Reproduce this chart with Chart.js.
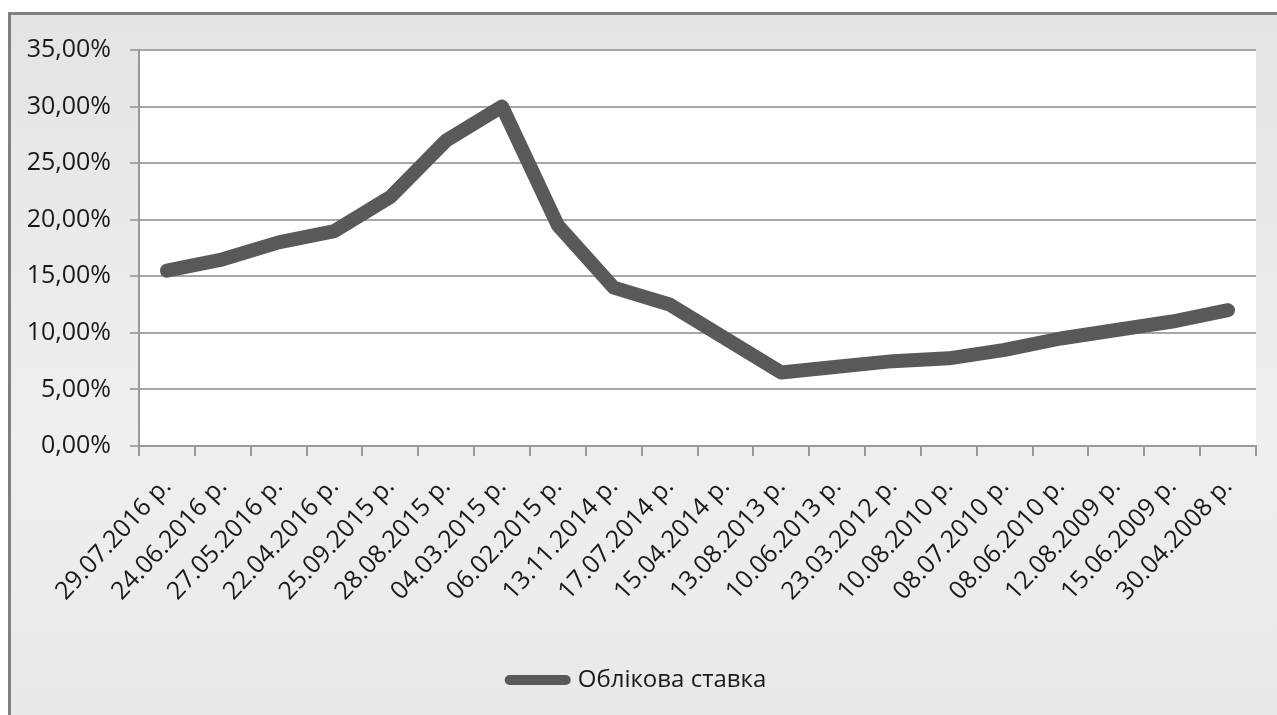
<!DOCTYPE html>
<html lang="uk">
<head>
    <meta charset="UTF-8">
    <script src="https://cdn.jsdelivr.net/npm/chart.js"></script>
    <title>Облікова ставка</title>
    <style>
        body { margin: 0; background: #fff; }
        #wrap { width: 1277px; height: 715px; position: relative; }
    </style>
</head>
<body>
    <div id="wrap">
        <canvas id="myChart"></canvas>
    </div>
    <script>
        const dates = [
            "29.07.2016 р.", "24.06.2016 р.", "27.05.2016 р.", "22.04.2016 р.", "25.09.2015 р.",
            "28.08.2015 р.", "04.03.2015 р.", "06.02.2015 р.", "13.11.2014 р.", "17.07.2014 р.",
            "15.04.2014 р.", "13.08.2013 р.", "10.06.2013 р.", "23.03.2012 р.", "10.08.2010 р.",
            "08.07.2010 р.", "08.06.2010 р.", "12.08.2009 р.", "15.06.2009 р.", "30.04.2008 р."
        ]
        const rates = [15.5, 16.5, 18, 19, 22, 27, 30, 19.5, 14, 12.5, 9.5, 6.5, 7, 7.5, 7.75, 8.5, 9.5, 10.25, 11, 12]
        const seriesName = "Облікова ставка"
        const yMax = 35
        const yStep = 5

        const lineColor = '#595959'
        const textColor = '#1a1a1a'

        // grey frame + white plot area, like the Excel export
        const background = {
            id: 'background',
            beforeDraw(chart) {
                const { ctx, chartArea: a, width, height } = chart
                ctx.save()
                ctx.fillStyle = '#ffffff'
                ctx.fillRect(0, 0, width, height)
                const g = ctx.createLinearGradient(0, 13, 0, height)
                g.addColorStop(0, '#e4e4e4')
                g.addColorStop(0.6, '#efefef')
                g.addColorStop(1, '#e9e9e9')
                ctx.fillStyle = g
                ctx.fillRect(10, 13, width, height)
                ctx.strokeStyle = '#808080'
                ctx.lineWidth = 3
                ctx.beginPath()
                ctx.moveTo(9.5, height + 5)
                ctx.lineTo(9.5, 13.5)
                ctx.lineTo(width + 5, 13.5)
                ctx.stroke()
                ctx.fillStyle = '#ffffff'
                ctx.fillRect(a.left, a.top, a.right - a.left, a.bottom - a.top)
                ctx.restore()
            }
        }

        const font = { family: "'Open Sans', sans-serif", size: 25 }

        new Chart(document.getElementById('myChart'), {
            type: 'line',
            data: {
                labels: dates,
                datasets: [{
                    label: seriesName,
                    data: rates,
                    borderColor: lineColor,
                    backgroundColor: lineColor,
                    borderWidth: 14,
                    borderJoinStyle: 'round',
                    borderCapStyle: 'round',
                    pointRadius: 0,
                    tension: 0
                }]
            },
            options: {
                responsive: true,
                maintainAspectRatio: false,
                animation: false,
                events: [],
                layout: { padding: { top: 50, left: 20, right: 21, bottom: 13 } },
                plugins: {
                    tooltip: { enabled: false },
                    legend: {
                        position: 'bottom',
                        labels: {
                            usePointStyle: true,
                            pointStyle: 'line',
                            pointStyleWidth: 56,
                            color: textColor,
                            font: { family: "'Open Sans', sans-serif", size: 24 },
                            padding: 10,
                            generateLabels(chart) {
                                return Chart.defaults.plugins.legend.labels.generateLabels(chart).map(l => {
                                    l.lineWidth = 10
                                    l.lineCap = 'round'
                                    l.strokeStyle = lineColor
                                    return l
                                })
                            }
                        }
                    }
                },
                scales: {
                    x: {
                        offset: true,
                        grid: {
                            offset: true,
                            drawOnChartArea: false,
                            drawTicks: true,
                            tickLength: 10,
                            color: '#999',
                            lineWidth: 2
                        },
                        border: { display: true, color: '#999', width: 2 },
                        ticks: {
                            minRotation: 47,
                            maxRotation: 47,
                            autoSkip: false,
                            color: textColor,
                            padding: 16,
                            font: font
                        },
                        afterFit(scale) { scale.height = 212 }
                    },
                    y: {
                        min: 0,
                        max: yMax,
                        grid: {
                            color: '#a6a6a6',
                            lineWidth: 2,
                            drawTicks: true,
                            tickLength: 9
                        },
                        border: { display: true, color: '#999', width: 2 },
                        ticks: {
                            stepSize: yStep,
                            color: textColor,
                            padding: 19,
                            font: font,
                            callback: v => v.toFixed(2).replace('.', ',') + '%'
                        },
                        afterFit(scale) { scale.width = 119 }
                    }
                }
            },
            plugins: [background]
        })
    </script>
</body>
</html>
